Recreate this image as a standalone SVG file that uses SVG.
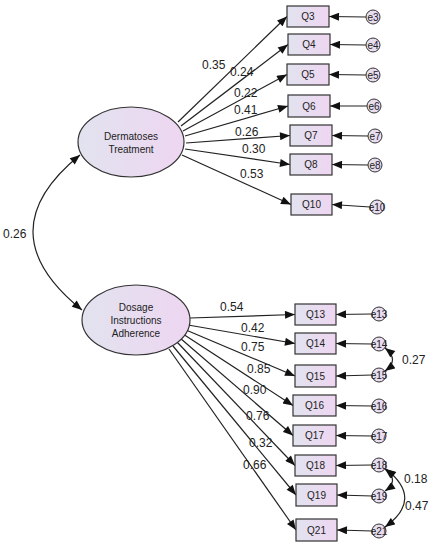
<svg xmlns="http://www.w3.org/2000/svg" width="436" height="550" viewBox="0 0 436 550">
<defs>
<linearGradient id="g" x1="0" y1="0" x2="1" y2="0">
<stop offset="0" stop-color="#e2e3ef"/>
<stop offset="1" stop-color="#eed6f1"/>
</linearGradient>
<marker id="ah" viewBox="0 0 10 8" refX="10" refY="4" markerWidth="11" markerHeight="8" markerUnits="userSpaceOnUse" orient="auto-start-reverse">
<path d="M0,0 L10,4 L0,8 z" fill="#111"/>
</marker>
<style>
.lat{fill:url(#g);stroke:#333;stroke-width:1.2}
.box{fill:url(#g);stroke:#333;stroke-width:1.2}
.err{fill:url(#g);stroke:#333;stroke-width:1}
.t{font-family:"Liberation Sans",Arial,sans-serif;font-size:10px;fill:#222;text-anchor:middle}
.et{font-family:"Liberation Sans",Arial,sans-serif;font-size:10px;fill:#222;text-anchor:middle}
.n{font-family:"Liberation Sans",Arial,sans-serif;font-size:12px;fill:#222}
.c line,.c path{stroke:#222;stroke-width:1.2;fill:none;marker-end:url(#ah)}
.c path.cov{marker-start:url(#ah)}
</style>
</defs>
<rect width="436" height="550" fill="#fff"/>
<g class="c" id="connectors">
<path class="cov" d="M80,155 Q-15,232 82,310"/>
<line x1="178" y1="122" x2="287" y2="16.5"/>
<line x1="181" y1="126" x2="288" y2="44.5"/>
<line x1="183" y1="131" x2="287" y2="74.5"/>
<line x1="185" y1="136" x2="288" y2="106"/>
<line x1="186" y1="143" x2="290" y2="135.5"/>
<line x1="185" y1="149" x2="290" y2="164.5"/>
<line x1="182" y1="155" x2="291" y2="204.5"/>
<line x1="190" y1="318" x2="295" y2="314.5"/>
<line x1="188" y1="325" x2="295" y2="343.5"/>
<line x1="186" y1="330" x2="295" y2="376"/>
<line x1="183" y1="334" x2="293" y2="405.5"/>
<line x1="180" y1="338" x2="293" y2="435.5"/>
<line x1="177" y1="342" x2="295" y2="465.5"/>
<line x1="173" y1="346" x2="296" y2="495"/>
<line x1="169" y1="349" x2="296" y2="530"/>
<line x1="366" y1="17" x2="329" y2="16.5"/>
<line x1="366" y1="45" x2="330" y2="44.5"/>
<line x1="366" y1="75" x2="329" y2="74.5"/>
<line x1="367" y1="106" x2="330" y2="106"/>
<line x1="368" y1="136" x2="332" y2="135.5"/>
<line x1="368" y1="165" x2="332" y2="164.5"/>
<line x1="370" y1="207" x2="332" y2="204.5"/>
<line x1="372" y1="314" x2="336" y2="314.5"/>
<line x1="372" y1="344" x2="336" y2="343.5"/>
<line x1="372" y1="375" x2="336" y2="376"/>
<line x1="372" y1="406" x2="336" y2="405.5"/>
<line x1="372" y1="436" x2="336" y2="435.5"/>
<line x1="372" y1="465" x2="336" y2="465.5"/>
<line x1="372" y1="496" x2="337" y2="495"/>
<line x1="372" y1="531" x2="337" y2="530"/>
<path class="cov" d="M385,348 Q400,360 385,371"/>
<path class="cov" d="M385,469 Q400,481 385,491"/>
<path class="cov" d="M386,469 Q424,499 385,527"/>
</g>
<g id="DT"><ellipse class="lat" cx="131" cy="142" rx="53" ry="35"/><text class="t" x="131" y="140">Dermatoses</text><text class="t" x="131" y="153">Treatment</text></g>
<g id="DIA"><ellipse class="lat" cx="136" cy="320" rx="54" ry="35"/><text class="t" x="136" y="311">Dosage</text><text class="t" x="136" y="324">Instructions</text><text class="t" x="136" y="337">Adherence</text></g>
<g id="Q3"><rect class="box" x="287" y="6" width="42" height="21"/><text class="t" x="308" y="20">Q3</text></g>
<g id="Q4"><rect class="box" x="288" y="34" width="42" height="21"/><text class="t" x="309" y="48">Q4</text></g>
<g id="Q5"><rect class="box" x="287" y="64" width="42" height="21"/><text class="t" x="308" y="78">Q5</text></g>
<g id="Q6"><rect class="box" x="288" y="95" width="42" height="22"/><text class="t" x="309" y="109.5">Q6</text></g>
<g id="Q7"><rect class="box" x="290" y="125" width="42" height="21"/><text class="t" x="311" y="139">Q7</text></g>
<g id="Q8"><rect class="box" x="290" y="154" width="42" height="21"/><text class="t" x="311" y="168">Q8</text></g>
<g id="Q10"><rect class="box" x="291" y="194" width="41" height="21"/><text class="t" x="311.5" y="208">Q10</text></g>
<g id="Q13"><rect class="box" x="295" y="304" width="41" height="21"/><text class="t" x="315.5" y="318">Q13</text></g>
<g id="Q14"><rect class="box" x="295" y="333" width="41" height="21"/><text class="t" x="315.5" y="347">Q14</text></g>
<g id="Q15"><rect class="box" x="295" y="365" width="41" height="22"/><text class="t" x="315.5" y="379.5">Q15</text></g>
<g id="Q16"><rect class="box" x="293" y="395" width="43" height="21"/><text class="t" x="314.5" y="409">Q16</text></g>
<g id="Q17"><rect class="box" x="293" y="425" width="43" height="21"/><text class="t" x="314.5" y="439">Q17</text></g>
<g id="Q18"><rect class="box" x="295" y="455" width="41" height="21"/><text class="t" x="315.5" y="469">Q18</text></g>
<g id="Q19"><rect class="box" x="296" y="484" width="41" height="22"/><text class="t" x="316.5" y="498.5">Q19</text></g>
<g id="Q21"><rect class="box" x="296" y="519" width="41" height="22"/><text class="t" x="316.5" y="533.5">Q21</text></g>
<g id="e3"><circle class="err" cx="373" cy="17" r="7"/><text class="et" x="373" y="20.5">e3</text></g>
<g id="e4"><circle class="err" cx="373" cy="45" r="7"/><text class="et" x="373" y="48.5">e4</text></g>
<g id="e5"><circle class="err" cx="373" cy="75" r="7"/><text class="et" x="373" y="78.5">e5</text></g>
<g id="e6"><circle class="err" cx="374" cy="106" r="7"/><text class="et" x="374" y="109.5">e6</text></g>
<g id="e7"><circle class="err" cx="375" cy="136" r="7"/><text class="et" x="375" y="139.5">e7</text></g>
<g id="e8"><circle class="err" cx="375" cy="165" r="7"/><text class="et" x="375" y="168.5">e8</text></g>
<g id="e10"><circle class="err" cx="377" cy="207" r="7"/><text class="et" x="377" y="210.5">e10</text></g>
<g id="e13"><circle class="err" cx="379" cy="314" r="7"/><text class="et" x="379" y="317.5">e13</text></g>
<g id="e14"><circle class="err" cx="379" cy="344" r="7"/><text class="et" x="379" y="347.5">e14</text></g>
<g id="e15"><circle class="err" cx="379" cy="375" r="7"/><text class="et" x="379" y="378.5">e15</text></g>
<g id="e16"><circle class="err" cx="379" cy="406" r="7"/><text class="et" x="379" y="409.5">e16</text></g>
<g id="e17"><circle class="err" cx="379" cy="436" r="7"/><text class="et" x="379" y="439.5">e17</text></g>
<g id="e18"><circle class="err" cx="379" cy="465" r="7"/><text class="et" x="379" y="468.5">e18</text></g>
<g id="e19"><circle class="err" cx="379" cy="496" r="7"/><text class="et" x="379" y="499.5">e19</text></g>
<g id="e21"><circle class="err" cx="379" cy="531" r="7"/><text class="et" x="379" y="534.5">e21</text></g>
<g id="labels">
<text class="n" x="3" y="238">0.26</text>
<text class="n" x="202" y="69">0.35</text>
<text class="n" x="230" y="76">0.24</text>
<text class="n" x="234" y="97">0.22</text>
<text class="n" x="234" y="114">0.41</text>
<text class="n" x="235" y="136">0.26</text>
<text class="n" x="242" y="153">0.30</text>
<text class="n" x="240" y="178">0.53</text>
<text class="n" x="220" y="311">0.54</text>
<text class="n" x="241" y="332">0.42</text>
<text class="n" x="241" y="351">0.75</text>
<text class="n" x="247" y="373">0.85</text>
<text class="n" x="243" y="394">0.90</text>
<text class="n" x="246" y="420">0.76</text>
<text class="n" x="249" y="447">0.32</text>
<text class="n" x="243" y="469">0.66</text>
<text class="n" x="402" y="364">0.27</text>
<text class="n" x="404" y="483">0.18</text>
<text class="n" x="405" y="510">0.47</text>
</g>
</svg>
